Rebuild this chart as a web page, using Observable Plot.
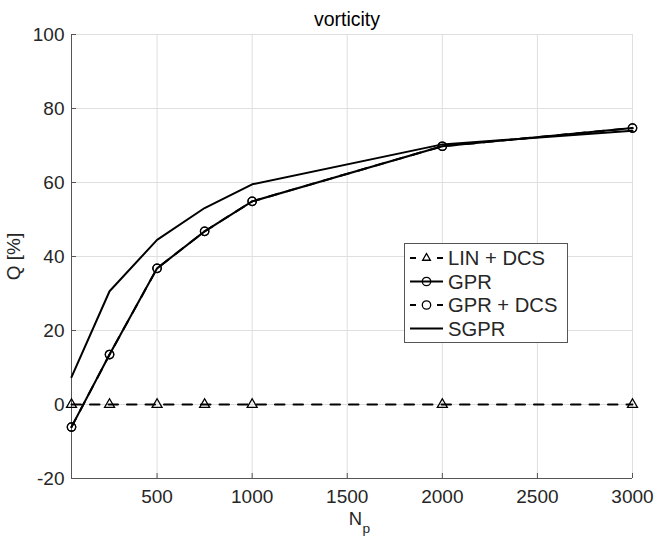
<!DOCTYPE html>
<html>
<head>
<meta charset="utf-8">
<script src="https://cdn.jsdelivr.net/npm/d3@7"></script>
<script src="https://cdn.jsdelivr.net/npm/@observablehq/plot@0.6"></script>
<style>
  html, body { margin: 0; padding: 0; background: white; }
</style>
</head>
<body>
<div id="chart"></div>
<script>
const Np = [50, 250, 500, 750, 1000, 2000, 3000];
const linDcs = [0, 0, 0, 0, 0, 0, 0];
const gpr = [-6.1, 13.5, 36.8, 46.8, 54.9, 69.8, 74.7];
const gprDcs = [-6.1, 13.5, 36.8, 46.8, 54.9, 69.8, 74.7];
const sgpr = [7.4, 30.6, 44.5, 53.1, 59.5, 70.3, 74.0];
const seriesNames = ["LIN + DCS", "GPR", "GPR + DCS", "SGPR"];
const xTicks = [500, 1000, 1500, 2000, 2500, 3000];
const yTicks = [-20, 0, 20, 40, 60, 80, 100];
const xDomain = [50, 3000];
const yDomain = [-20, 100];
const titleText = "vorticity";
const yLabel = "Q [%]";

const tbl = (vals) => Np.map((n, i) => ({Np: n, Q: vals[i]}));
const dLin = tbl(linDcs), dGpr = tbl(gpr), dGprDcs = tbl(gprDcs), dSgpr = tbl(sgpr);

const ink = "#262626";
const font = "'Liberation Sans', Arial, Helvetica, sans-serif";
const fmt = (d) => String(d);

const chart = Plot.plot({
  width: 655,
  height: 541,
  marginLeft: 71,
  marginRight: 23,
  marginTop: 34,
  marginBottom: 63,
  style: {fontFamily: font, fontSize: "19px", color: ink, background: "white"},
  x: {domain: xDomain},
  y: {domain: yDomain},
  marks: [
    Plot.gridX(xTicks, {stroke: "#dfdfdf", strokeOpacity: 1}),
    Plot.gridY(yTicks, {stroke: "#dfdfdf", strokeOpacity: 1}),
    Plot.axisX(xTicks, {tickSize: -5, tickPadding: 16, label: null, stroke: "#555", fill: ink, tickFormat: fmt}),
    Plot.axisY(yTicks, {tickSize: -5, tickPadding: 12, label: null, stroke: "#555", fill: ink, tickFormat: fmt}),
    Plot.ruleX([xDomain[0]], {stroke: "#555"}),
    Plot.ruleY([yDomain[0]], {stroke: "#555"}),
    Plot.line(dLin, {x: "Np", y: "Q", stroke: "black", strokeWidth: 2, strokeDasharray: "9.5,9"}),
    Plot.dot(dLin, {x: "Np", y: "Q", symbol: "triangle", r: 3.7, stroke: "black", fill: "none", strokeWidth: 1.3}),
    Plot.line(dGpr, {x: "Np", y: "Q", stroke: "black", strokeWidth: 2}),
    Plot.dot(dGpr, {x: "Np", y: "Q", symbol: "circle", r: 4.2, stroke: "black", fill: "none", strokeWidth: 1.3}),
    Plot.line(dGprDcs, {x: "Np", y: "Q", stroke: "black", strokeWidth: 2, strokeDasharray: "9.5,9"}),
    Plot.dot(dGprDcs, {x: "Np", y: "Q", symbol: "circle", r: 4.2, stroke: "black", fill: "none", strokeWidth: 1.3}),
    Plot.line(dSgpr, {x: "Np", y: "Q", stroke: "black", strokeWidth: 2}),
    Plot.text([titleText], {frameAnchor: "top", dy: -9, dx: -5, lineAnchor: "bottom", fontSize: 19.5, fill: "black"}),
    Plot.text([yLabel], {frameAnchor: "left", dx: -58, rotate: -90, textAnchor: "middle", fontSize: 19, fill: ink})
  ]
});

const svg = d3.select(chart);
// x label N_p
svg.append("text").attr("font-family", font).attr("fill", ink)
  .attr("x", 362).attr("y", 525).attr("text-anchor", "end").attr("font-size", 18.4).text("N");
svg.append("text").attr("font-family", font).attr("fill", ink)
  .attr("x", 362.5).attr("y", 532.5).attr("text-anchor", "start").attr("font-size", 13.7).text("p");

// legend
const lg = svg.append("g").attr("font-family", font).attr("font-size", 20.2).attr("fill", ink).attr("text-anchor", "start");
lg.append("rect").attr("x", 404.5).attr("y", 243.5).attr("width", 163).attr("height", 99)
  .attr("fill", "white").attr("stroke", "#555").attr("stroke-width", 1);
const rows = [258, 281.5, 305, 328.5];
const lx1 = 410, lx2 = 443, lcx = 426.5, tx = 448;
seriesNames.forEach((name, i) => {
  const y = rows[i];
  const dashed = (i === 0 || i === 2);
  if (dashed) {
    lg.append("line").attr("x1", lx1).attr("x2", lx1 + 6).attr("y1", y).attr("y2", y).attr("stroke", "black").attr("stroke-width", 2);
    lg.append("line").attr("x1", lx2 - 6).attr("x2", lx2).attr("y1", y).attr("y2", y).attr("stroke", "black").attr("stroke-width", 2);
  } else {
    lg.append("line").attr("x1", lx1).attr("x2", lx2).attr("y1", y).attr("y2", y).attr("stroke", "black").attr("stroke-width", 2);
  }
  if (i === 0) {
    lg.append("path").attr("d", d3.symbol(d3.symbolTriangle2, Math.PI * 3.7 * 3.7)()).attr("transform", `translate(${lcx},${y})`)
      .attr("fill", "none").attr("stroke", "black").attr("stroke-width", 1.3);
  } else if (i === 1 || i === 2) {
    lg.append("circle").attr("cx", lcx).attr("cy", y).attr("r", 4.2).attr("fill", "none").attr("stroke", "black").attr("stroke-width", 1.3);
  }
  lg.append("text").attr("x", tx).attr("y", y).attr("dy", "0.36em").attr("text-anchor", "start").text(name);
});

document.getElementById("chart").appendChild(chart);
</script>
</body>
</html>
